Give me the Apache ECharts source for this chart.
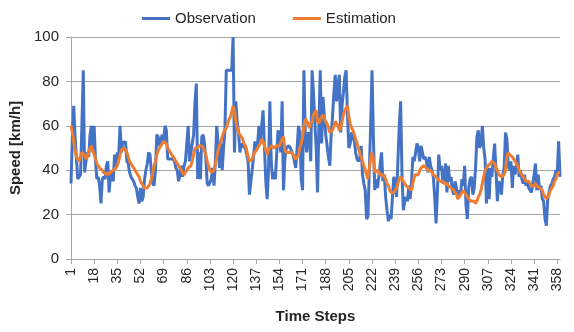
<!DOCTYPE html>
<html><head><meta charset="utf-8">
<script src="https://cdn.jsdelivr.net/npm/echarts@6/dist/echarts.min.js"></script>
<style>html,body{margin:0;padding:0;background:#fff}#c{width:574px;height:332px}</style>
</head><body><div id="c"></div>
<script>
const seriesNames = ['Observation', 'Estimation'];
const yTicks = [0, 20, 40, 60, 80, 100];
const tickEvery = 17;
const timeSteps = Array.from({length: 360}, (_, i) => String(i + 1));

const observation = [
34,55,69,55,45,36,36,38,60,85,
39,44,48,46,56,60,48,60,44,36,
37,33,25,36,37,36,42,44,30,38,
39,35,47,42,48,46,60,48,53,52,
53,44,43,39,37,36,35,33,32,28,
25,32,26,28,36,40,43,48,47,39,
34,33,40,56,55,51,54,56,53,60,
58,45,45,45,45,45,44,41,40,35,
38,42,37,42,44,44,60,44,48,52,
56,70,79,36,48,36,55,56,52,45,
34,33,33,36,41,33,44,60,52,41,
52,40,50,58,85,85,85,85,85,100,
48,71,62,57,48,52,51,51,50,47,
44,29,29,40,46,53,49,52,60,53,
60,67,51,35,27,40,71,44,36,39,
36,47,58,55,48,71,31,45,50,50,
51,50,50,47,44,41,50,60,57,36,
31,85,55,48,57,56,44,85,75,62,
50,30,60,85,52,73,64,56,51,46,
42,56,64,75,83,71,78,83,57,69,
75,82,85,64,50,52,57,55,53,48,
45,44,45,51,38,34,31,18,19,40,
60,85,55,31,36,32,37,43,48,35,
38,28,22,17,20,18,28,37,34,28,
44,60,71,38,22,26,28,26,33,27,
35,46,44,48,52,50,44,51,51,45,
46,44,39,46,42,40,37,28,16,30,
47,40,42,34,38,43,30,42,35,37,
31,29,35,32,28,31,29,36,33,42,
24,18,32,36,37,29,32,41,55,58,
50,52,60,50,45,25,41,27,41,37,
45,52,40,26,35,33,29,38,41,57,
54,42,40,44,32,42,38,42,47,37,
40,36,34,38,33,35,32,31,30,34,
38,43,31,38,31,33,27,26,18,15,
27,30,33,34,36,37,40,39,53,37
];

const estimation = [
60,57,53,49,46,45,44,46,48,48,
47,45,46,48,50,51,49,47,45,43,
42,41,41,40,39,39,38,39,38,39,
39,40,40,41,42,44,47,49,49,50,
49,48,46,44,43,42,41,40,39,38,
37,35,34,33,32,32,32,33,34,36,
39,42,44,47,49,50,51,52,53,53,
52,50,49,48,47,46,45,44,43,42,
41,40,39,38,38,40,41,41,42,44,
47,50,50,50,51,51,51,50,49,47,
44,42,40,39,39,40,43,46,49,51,
53,55,57,58,59,61,63,64,66,69,
67,62,59,57,56,55,54,52,51,49,
46,44,44,45,47,48,49,50,51,52,
54,53,51,49,47,49,50,51,51,50,
50,51,51,51,51,54,55,49,48,48,
48,48,48,47,46,45,45,47,50,52,
55,60,63,62,61,59,61,62,65,66,
67,62,61,63,64,65,63,62,61,59,
57,57,58,60,62,62,60,58,59,62,
65,67,68,69,64,61,59,58,56,54,
52,50,48,46,44,42,40,38,36,41,
46,48,45,39,39,40,39,38,38,38,
37,36,34,33,31,30,30,30,31,32,
34,36,37,37,35,34,33,33,32,32,
31,34,37,38,38,38,40,41,41,42,
42,41,40,40,40,39,38,38,37,36,
36,35,35,35,34,34,34,33,33,32,
32,31,30,29,27,28,29,30,31,31,
29,28,27,27,26,26,26,25,26,28,
29,31,34,37,40,41,42,42,43,44,
44,43,41,40,38,38,37,37,38,40,
46,48,47,47,46,45,44,43,42,40,
39,38,37,36,35,35,35,34,33,33,
33,34,33,33,32,32,31,29,28,27,
28,29,31,32,33,35,36,38,39,39
];

const FONT = '"Liberation Sans", Arial, sans-serif';
const chart = echarts.init(document.getElementById('c'), null, {renderer: 'canvas'});
chart.setOption({
  animation: false,
  backgroundColor: '#ffffff',
  color: ['#4472C4', '#ED7D31'],
  legend: {
    data: seriesNames,
    left: 137, top: 6,
    icon: 'rect', itemWidth: 28, itemHeight: 3, itemGap: 37,
    textStyle: {fontFamily: FONT, fontSize: 15, color: '#262626'}
  },
  grid: {left: 71, right: 14, top: 37, bottom: 73, containLabel: false},
  xAxis: {
    type: 'category',
    data: timeSteps,
    boundaryGap: false,
    name: 'Time Steps',
    nameLocation: 'middle',
    nameGap: 50,
    nameTextStyle: {fontFamily: FONT, fontSize: 15, fontWeight: 'bold', color: '#262626'},
    axisLine: {lineStyle: {color: '#a6a6a6', width: 1}},
    axisTick: {show: true, length: 5, interval: (i) => i % tickEvery === 0, lineStyle: {color: '#a6a6a6'}},
    axisLabel: {interval: (i) => i % tickEvery === 0, rotate: 90, margin: 9,
      fontFamily: FONT, fontSize: 14, color: '#262626'},
    splitLine: {show: false}
  },
  yAxis: {
    type: 'value',
    min: yTicks[0], max: yTicks[yTicks.length - 1], interval: 20,
    name: 'Speed [km/h]',
    nameLocation: 'middle',
    nameGap: 42,
    nameRotate: 90,
    nameTextStyle: {fontFamily: FONT, fontSize: 15, fontWeight: 'bold', color: '#262626'},
    axisLine: {show: true, lineStyle: {color: '#a6a6a6', width: 1}},
    axisTick: {show: true, length: 5, lineStyle: {color: '#a6a6a6'}},
    axisLabel: {margin: 12, fontFamily: FONT, fontSize: 15, color: '#262626'},
    splitLine: {show: true, lineStyle: {color: '#a6a6a6', width: 1}}
  },
  series: [
    {name: seriesNames[0], type: 'line', data: observation, symbol: 'none',
     lineStyle: {width: 3, color: '#4472C4'}, z: 2},
    {name: seriesNames[1], type: 'line', data: estimation, symbol: 'none',
     lineStyle: {width: 3, color: '#ED7D31'}, z: 3}
  ]
});
</script></body></html>
